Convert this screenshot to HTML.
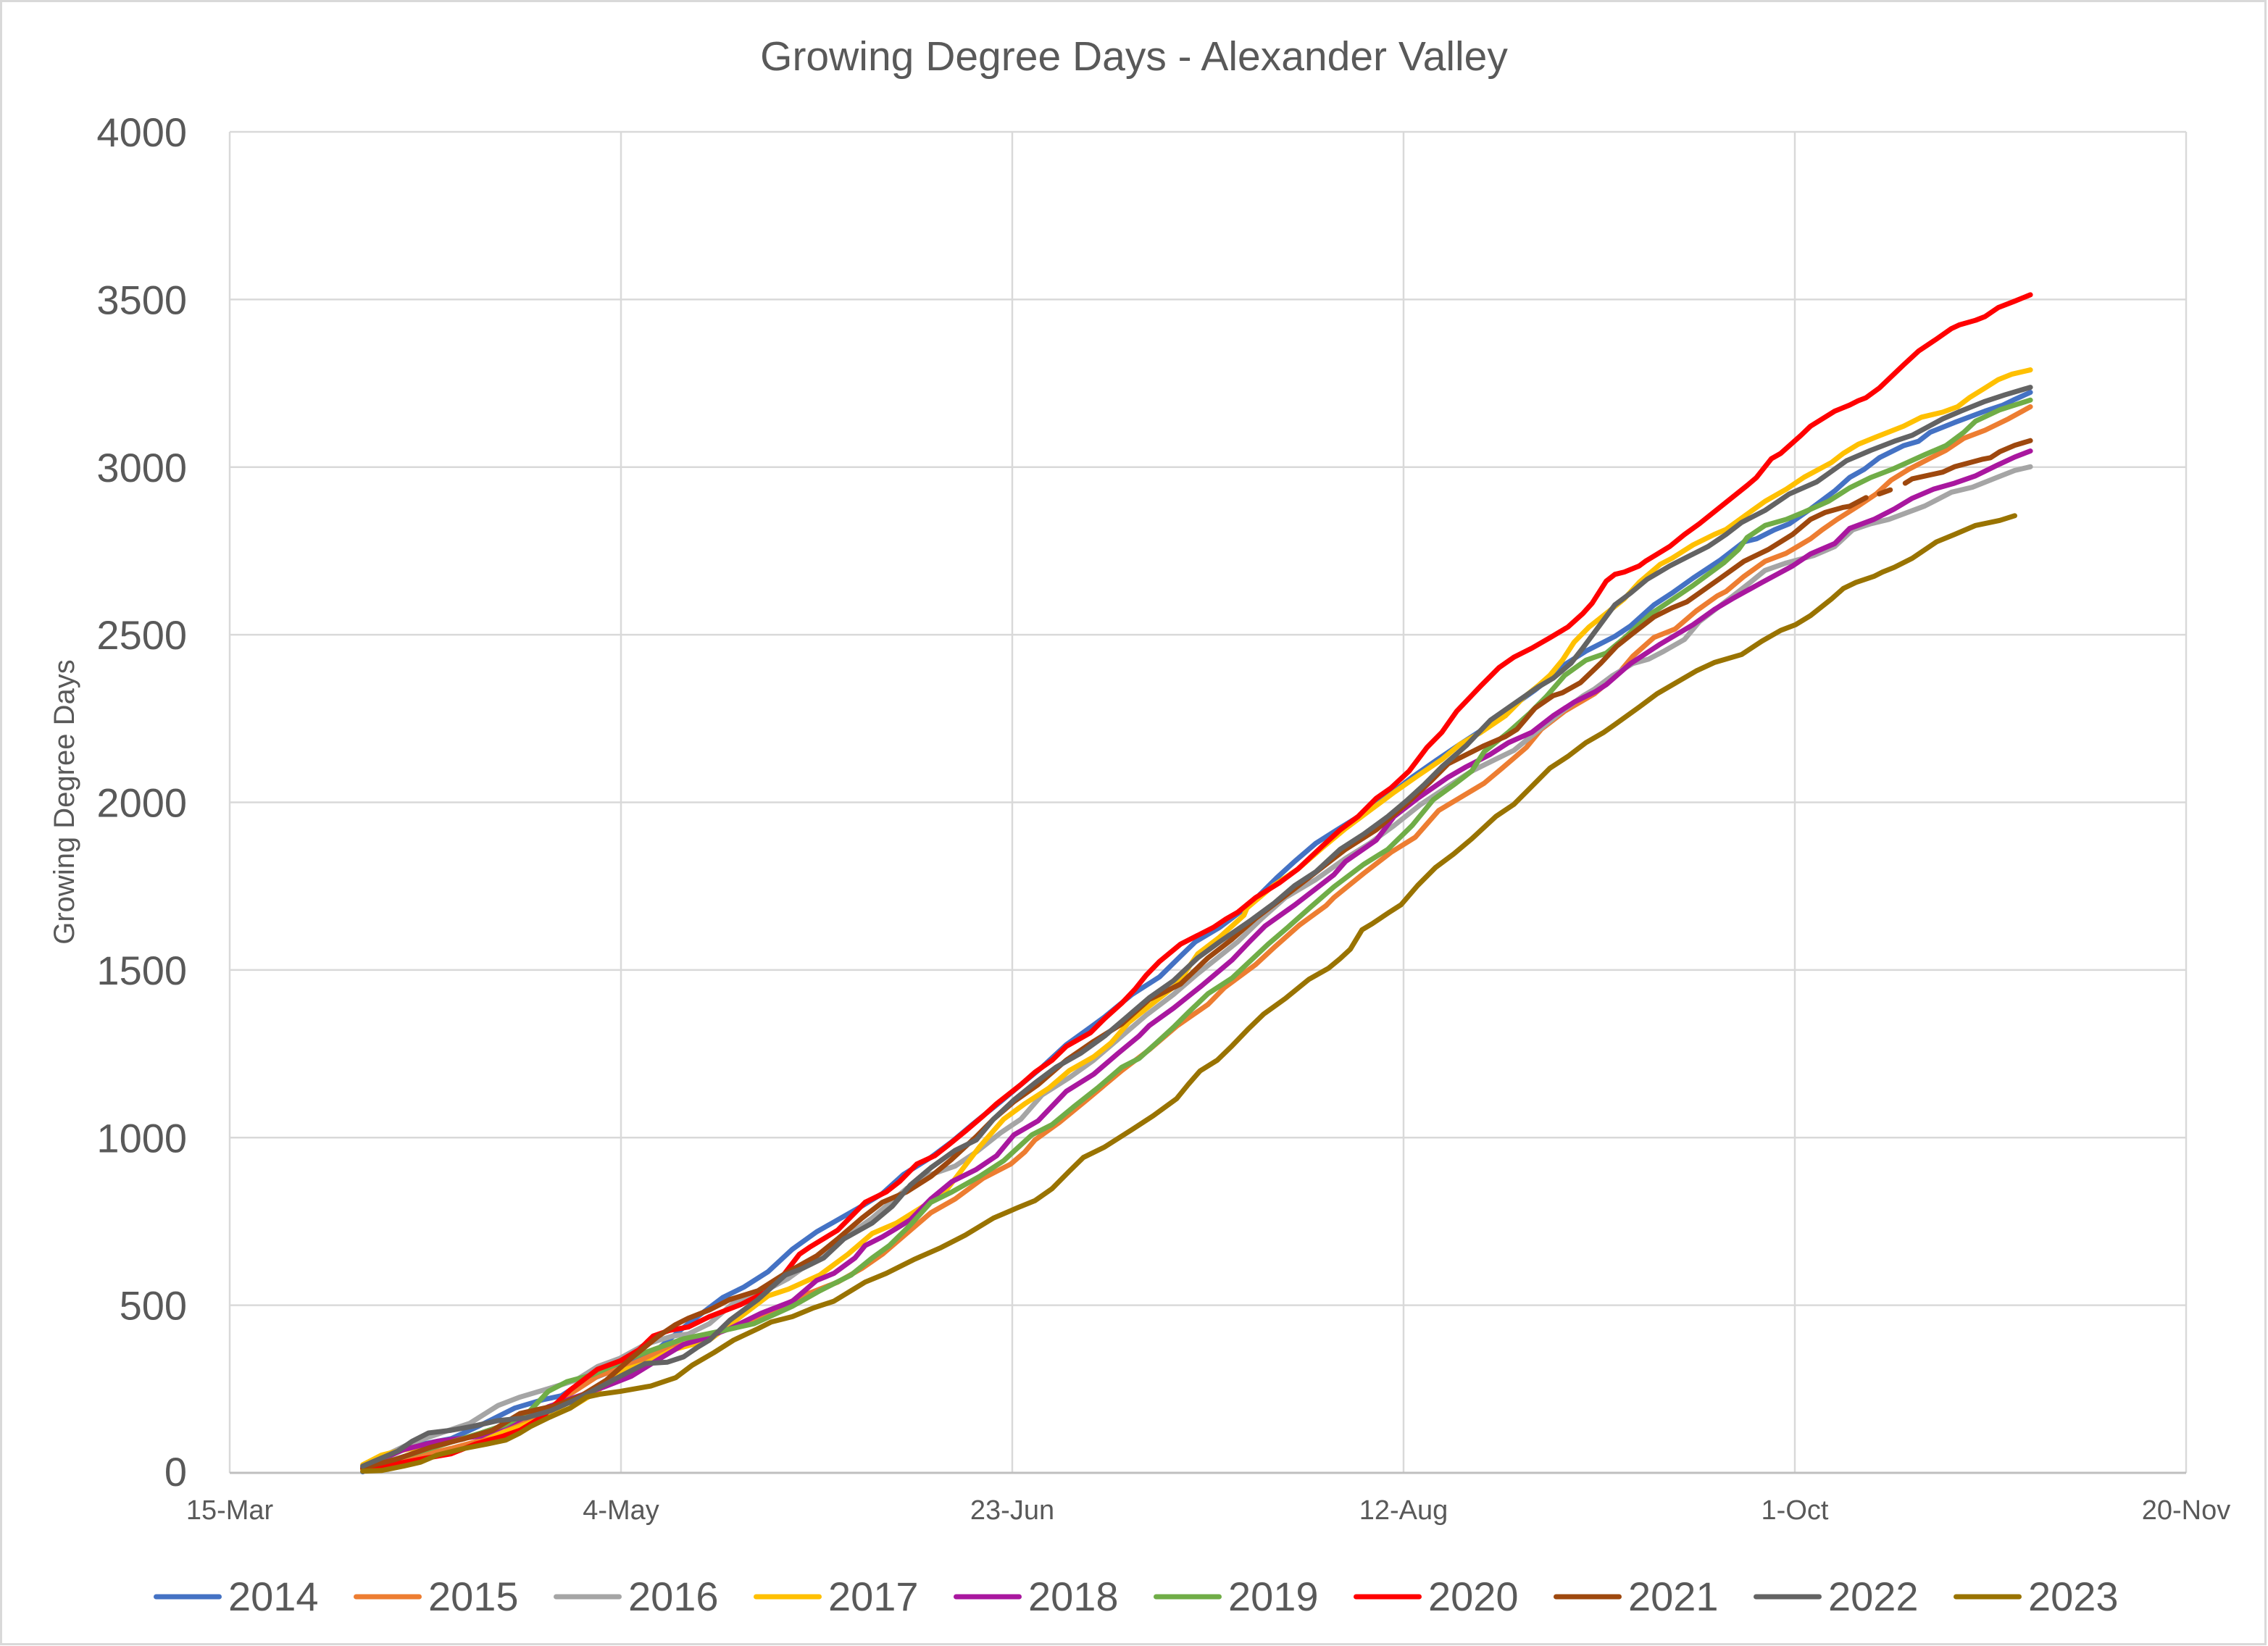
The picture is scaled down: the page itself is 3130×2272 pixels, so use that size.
<!DOCTYPE html>
<html>
<head>
<meta charset="utf-8">
<style>
html,body{margin:0;padding:0;background:#fff;}
svg{display:block;}
text{font-family:"Liberation Sans",Arial,sans-serif;fill:#595959;}
</style>
</head>
<body>
<svg width="3130" height="2272" viewBox="0 0 3130 2272" xmlns="http://www.w3.org/2000/svg">
<rect x="0" y="0" width="3130" height="2272" fill="#fff"/>
<rect x="1.5" y="1.5" width="3125" height="2268" fill="none" stroke="#d9d9d9" stroke-width="3"/>

<!-- title -->
<text x="1565" y="97" font-size="57" text-anchor="middle">Growing Degree Days - Alexander Valley</text>

<!-- gridlines -->
<g stroke="#d9d9d9" stroke-width="2.5" fill="none">
<line x1="317" y1="182" x2="3017" y2="182"/>
<line x1="317" y1="413.4" x2="3017" y2="413.4"/>
<line x1="317" y1="644.75" x2="3017" y2="644.75"/>
<line x1="317" y1="876.1" x2="3017" y2="876.1"/>
<line x1="317" y1="1107.5" x2="3017" y2="1107.5"/>
<line x1="317" y1="1338.9" x2="3017" y2="1338.9"/>
<line x1="317" y1="1570.25" x2="3017" y2="1570.25"/>
<line x1="317" y1="1801.6" x2="3017" y2="1801.6"/>
<line x1="317" y1="182" x2="317" y2="2033"/>
<line x1="857" y1="182" x2="857" y2="2033"/>
<line x1="1397" y1="182" x2="1397" y2="2033"/>
<line x1="1937" y1="182" x2="1937" y2="2033"/>
<line x1="2477" y1="182" x2="2477" y2="2033"/>
<line x1="3017" y1="182" x2="3017" y2="2033"/>
</g>
<line x1="317" y1="2033" x2="3017" y2="2033" stroke="#bfbfbf" stroke-width="3"/>

<!-- y tick labels -->
<g font-size="56" text-anchor="end">
<text x="258" y="202">4000</text>
<text x="258" y="433.4">3500</text>
<text x="258" y="664.75">3000</text>
<text x="258" y="896.1">2500</text>
<text x="258" y="1127.5">2000</text>
<text x="258" y="1358.9">1500</text>
<text x="258" y="1590.25">1000</text>
<text x="258" y="1821.6">500</text>
<text x="258" y="2051">0</text>
</g>

<!-- x tick labels -->
<g font-size="38" text-anchor="middle">
<text x="317" y="2097">15-Mar</text>
<text x="857" y="2097">4-May</text>
<text x="1397" y="2097">23-Jun</text>
<text x="1937" y="2097">12-Aug</text>
<text x="2477" y="2097">1-Oct</text>
<text x="3017" y="2097">20-Nov</text>
</g>

<!-- y axis label -->
<text transform="translate(102,1107) rotate(-90)" font-size="40" text-anchor="middle">Growing Degree Days</text>

<!-- series -->
<g transform="translate(317 2033) scale(10.8 -0.46275)" fill="none" stroke-width="7" stroke-linejoin="round" stroke-linecap="round">
<polyline vector-effect="non-scaling-stroke" stroke="#4472C4" points="17,3 21.2,61 24.7,86 28.3,102 31.8,139 36.4,193 40,218 42.4,230 44.9,268 48.1,297 51.3,334 54.8,371 58.6,445 63,523 65.7,554 68.8,600 71.9,667 75,719 78.1,760 80.8,796 83.4,833 86.1,890 89.6,941 92.3,988 94.9,1039 98.5,1107 101.1,1158 103.8,1210 106.9,1277 110,1329 111.8,1360 115.3,1427 118.8,1479 121.5,1541 123.4,1584 126.5,1627 130.3,1694 133.8,1775 136.1,1824 138.8,1878 141.5,1918 144.9,1967 148.4,2026 151.1,2075 154.1,2124 157.2,2173 159.9,2214 161.8,2249 164.1,2290 166.8,2335 168.7,2370 170.6,2411 173.3,2451 177,2495 179,2526 182,2589 184.3,2624 187,2669 190.5,2723 193.5,2777 195.1,2786 197.4,2813 199.3,2831 202,2875 205.1,2929 207,2969 208.9,2994 210.8,3028 213.9,3064 215.8,3077 217.3,3104 220.4,3133 224.3,3167 226.6,3185 228.1,3202 230.1,3223"/>
<polyline vector-effect="non-scaling-stroke" stroke="#ED7D31" points="17,12 22.9,44 28.3,73 33.6,106 38.9,164 43.5,235 47,288 50.6,317 54.8,359 59.1,392 63.3,429 67.9,466 73.2,528 77.7,569 80.8,610 83.4,652 87,724 89.6,776 92.7,817 96.3,879 99.8,921 101.6,957 102.9,993 106,1045 109.5,1112 114,1200 117.5,1262 121.1,1334 125,1397 127.1,1447 131.1,1516 133.6,1570 136.7,1634 140.1,1692 141.1,1716 144.9,1788 148.4,1851 151.5,1896 154.5,1976 156.8,2008 160.3,2057 162.6,2102 165.7,2164 167.6,2218 170.6,2272 174.4,2324 177.4,2383 179.3,2436 182,2492 184.7,2517 187.4,2571 190.1,2616 191.2,2629 193.5,2674 196.2,2719 198.9,2743 202,2786 203.5,2813 205.4,2844 208.1,2884 210.4,2920 212.3,2961 214.6,2994 217,3023 219.3,3050 221.6,3086 224.3,3110 227.3,3144 230.1,3180"/>
<polyline vector-effect="non-scaling-stroke" stroke="#A5A5A5" points="17,20 22.9,86 26.5,115 30.7,148 34.3,201 37.1,226 40.7,251 44.2,276 47,317 49.9,342 53.1,383 56.6,408 58.6,414 61.3,445 64.4,507 68.4,543 71.4,580 75,641 78.1,693 82.1,760 86.5,848 89.6,890 92.7,915 95.4,957 98.5,1014 101.1,1055 103.8,1127 107.3,1179 110.4,1231 113.5,1293 117.1,1365 120.6,1427 123.7,1489 128.8,1584 131.9,1654 134.9,1716 138.8,1770 142.6,1833 145.7,1878 148.8,1931 152.2,1994 155.7,2048 158.7,2093 161.8,2129 164.1,2155 167.2,2214 170.3,2272 172.9,2317 174.4,2338 176.7,2378 179.3,2414 181.3,2427 183.2,2450 185.9,2486 187.8,2539 191.6,2607 194.3,2656 196.2,2692 198.9,2714 202.4,2736 205.1,2763 207.4,2813 209.7,2831 212,2844 213.5,2857 216.6,2884 218.1,2902 220,2925 222.7,2940 225.8,2969 228.1,2990 230.1,3001"/>
<polyline vector-effect="non-scaling-stroke" stroke="#FFC000" points="17,24 19.4,53 21.5,65 26.5,86 30.7,106 35.3,123 39.2,156 43.5,193 47,243 49.5,301 53.1,326 56.6,367 61.3,396 65.3,466 68.8,528 71.4,548 75.4,590 79,652 82.1,714 85.2,745 88.7,796 91.4,838 93.6,905 95.8,972 98.9,1055 101.6,1101 104.7,1148 107.3,1200 110.4,1241 112.6,1282 114.9,1344 118,1401 121.1,1458 123.7,1548 126.5,1598 129.6,1663 130,1685 133.4,1752 136.5,1801 139.6,1864 142.6,1922 145.7,1976 148.8,2030 151.8,2079 154.9,2128 157.2,2173 159.9,2209 163,2258 165.3,2312 167.2,2348 168.7,2379 170.3,2424 171.8,2478 173.7,2523 176.3,2571 178.2,2607 180.1,2656 182.8,2710 184.3,2728 187,2768 189.7,2799 191.2,2814 193.5,2853 196.2,2898 198.9,2934 201.2,2970 204.7,3014 206.2,3041 208.1,3068 210.4,3090 213.9,3122 216.2,3149 218.9,3164 220.8,3180 222.3,3207 224.3,3236 226,3261 227.7,3277 230.1,3290"/>
<polyline vector-effect="non-scaling-stroke" stroke="#A9179F" points="17,15 22.2,69 26.5,94 32.1,110 36.4,152 40.7,197 44.2,226 47.7,255 51.3,288 54.5,334 58,383 59.9,396 63.9,430 67.9,476 71.9,512 75,574 77.2,595 79.9,641 81.2,678 83.4,704 85.2,729 87,755 89.6,817 92.3,869 95.4,905 98,946 100.2,1008 103.3,1050 106.9,1138 110.4,1189 113.5,1251 116.2,1303 117.5,1334 120.6,1386 124.2,1453 128.1,1530 130.3,1584 132.3,1631 136.1,1694 141.1,1784 142.6,1824 146.5,1887 148.8,1958 151.8,2012 155.7,2075 158,2106 161,2142 163.4,2178 166.4,2209 169.1,2258 171.8,2299 174.5,2330 175.9,2351 179,2414 182.8,2472 187,2530 189.7,2575 192,2607 195.8,2656 199.7,2705 202,2741 205.1,2772 207,2817 210.1,2844 212.7,2875 215,2907 217.7,2934 220.4,2952 223.1,2974 225.8,3005 228.1,3030 230.1,3048"/>
<polyline vector-effect="non-scaling-stroke" stroke="#70AD47" points="17,12 22.9,53 28.6,94 32.1,119 35.3,144 38.2,181 40.7,243 43.1,272 46.3,292 49.9,330 53.1,359 58,400 62.6,422 67,445 71.9,497 75.4,543 79.4,590 82.1,641 84.3,678 87,740 89.6,807 92.3,838 95.8,884 98.9,931 102.5,1008 105.1,1039 107.8,1091 110.9,1148 114,1210 116.2,1236 118.4,1282 120.6,1329 122.4,1371 125,1429 128.1,1476 132.7,1577 135.2,1627 138,1685 141.1,1748 144.9,1815 148,1860 151.1,1931 153.8,2008 156.4,2052 158.7,2093 160.3,2151 163.4,2209 166,2263 168.3,2317 170.6,2379 173.3,2424 175.9,2445 178.2,2490 181.6,2562 183.9,2598 187,2647 190.9,2714 192.8,2754 193.9,2790 196.2,2826 198.9,2844 201.2,2866 204.3,2898 207,2938 209.7,2969 212.7,2996 216.6,3037 219.3,3064 221.6,3104 223.1,3137 226.2,3171 230.1,3200"/>
<polyline vector-effect="non-scaling-stroke" stroke="#FF0000" points="17,12 21.5,28 25.1,44 28.3,57 31.4,86 35,110 37.1,127 40,168 43.5,247 47,309 49.9,334 52.3,367 54.1,408 56.2,425 58.6,435 61.3,466 65.3,502 68.4,538 70.6,585 72.8,652 74.1,673 77.7,724 79.9,776 81.2,807 83.9,838 85.6,869 87.8,921 90.1,946 91.8,977 94,1019 96.3,1065 98,1101 101.1,1158 102.9,1195 105.1,1231 106.9,1272 110,1313 111.8,1355 114,1401 115.7,1443 117.1,1484 118.8,1525 121.5,1577 125.7,1627 127.3,1652 128.8,1672 131.1,1716 134.2,1761 136.5,1801 139.6,1869 141.9,1918 144.2,1958 146.5,2012 148.4,2043 150.7,2093 153,2164 154.9,2209 156.8,2272 159.9,2348 162.2,2402 164.1,2433 166.4,2460 168.7,2491 171,2523 172.9,2563 174.1,2594 175.9,2660 177,2680 178.2,2687 180.1,2705 180.9,2719 184,2763 185.9,2799 187.8,2831 190.9,2889 194,2947 195.1,2969 197,3025 198.2,3041 200.8,3095 202,3122 205.1,3167 207,3185 208.1,3198 209.1,3207 210.8,3236 213.9,3305 215.8,3346 218.1,3382 220,3413 221,3424 223.1,3438 224.3,3449 226,3476 228.1,3495 230.1,3514"/>
<polyline vector-effect="non-scaling-stroke" stroke="#9E480E" points="17,15 21.2,40 25.8,77 30,102 33.6,127 37.1,177 41.7,201 44.9,230 48.1,276 51.3,342 54.8,408 56.9,441 58.6,461 61.3,486 63.9,517 67.5,543 71,595 75,647 77.7,698 80.8,760 83.4,807 86.5,838 89.6,884 92.3,936 95.4,1003 97.6,1055 100.2,1107 103.3,1158 106.9,1231 110.4,1287 114,1339 117.5,1412 121.5,1458 125,1536 128.1,1592 131.1,1654 136.1,1743 139.6,1806 142.6,1860 146.5,1918 150.3,1994 153.4,2061 155.7,2115 158,2142 160.3,2169 163,2196 164.5,2218 166.8,2281 169.1,2318 170.3,2327 172.6,2357 175.2,2415 177.2,2465 179.3,2504 182,2553 184.3,2580 186.2,2598 190.5,2669 193.5,2719 196.6,2754 199.7,2799 202,2844 203.9,2865 206.2,2880 207,2883 209.1,2909"/>
<polyline vector-effect="non-scaling-stroke" stroke="#9E480E" points="210.8,2920 212.2,2932"/>
<polyline vector-effect="non-scaling-stroke" stroke="#9E480E" points="214.1,2952 215,2965 218.9,2985 220.4,3001 223.9,3023 225,3028 226.2,3046 228.1,3065 230.1,3079"/>
<polyline vector-effect="non-scaling-stroke" stroke="#636363" points="17,20 19.4,44 21.5,65 23.3,94 25.4,119 28.3,127 31.1,139 34.3,156 37.8,164 41,185 44.2,218 46.3,243 49.9,288 53.1,326 55.9,330 58,346 59.8,375 61.3,396 63.9,455 67.5,517 71,590 73.2,610 75.9,641 78.5,698 82.1,745 84.7,796 87,859 89.6,910 92.7,962 95.4,993 97.6,1055 100.2,1112 102.9,1163 105.6,1210 108.7,1251 111.8,1303 114.9,1365 117.5,1417 120.6,1468 123.7,1536 126.5,1584 130.3,1645 133.4,1698 136.1,1752 138.8,1793 141.9,1860 144.9,1905 148,1958 150.3,2003 152.6,2052 154.9,2106 158,2169 161.1,2245 164.1,2294 167.2,2344 169.1,2370 171.4,2415 172.9,2460 174.9,2523 177,2589 179,2624 181.1,2665 184,2705 186.6,2736 188.9,2763 191.2,2799 193.2,2835 196.2,2871 199.3,2920 202.8,2956 206.6,3019 209.7,3050 212.7,3077 215,3095 218.9,3144 221.2,3167 224.3,3196 226.9,3216 230.1,3238"/>
<polyline vector-effect="non-scaling-stroke" stroke="#997300" points="17,5 19.4,7 22.2,20 24.4,32 26.5,53 30,73 32.9,86 35.3,98 37.1,119 38.5,139 40.7,164 43.5,193 45.6,226 47.4,235 49.9,243 53.8,259 57,284 59.1,321 61.9,359 64.4,396 67.5,430 69.2,450 71.9,466 74.6,492 77.2,512 81.2,569 83.9,595 87.4,636 90.9,672 94,709 97.6,760 100.7,791 102.9,812 105.1,848 107.3,900 109.1,941 111.8,972 115.3,1024 118,1065 121,1116 122.5,1159 124,1199 126.2,1231 128.1,1274 130.2,1325 132.1,1368 134.9,1415 137.9,1472 140.4,1505 141.9,1534 143.2,1562 144.7,1620 146,1638 148.1,1671 149.7,1695 151.8,1752 154.1,1806 156.4,1846 158.7,1891 161.8,1958 164.1,1994 166.4,2048 168.7,2102 171,2137 173.3,2178 175.6,2209 177,2232 180.1,2284 182.4,2324 187.4,2392 189.7,2417 193.2,2441 195.8,2481 198.2,2513 200.1,2530 202,2557 204.7,2607 206.2,2638 207.8,2656 210.1,2674 211.2,2687 212.7,2701 215,2728 218.1,2777 220.4,2799 223.1,2826 226.2,2841 228.1,2855"/>
</g>

<!-- legend -->
<g stroke-width="7" stroke-linecap="round">
<line x1="215.5" y1="2204" x2="302.5" y2="2204" stroke="#4472C4"/>
<line x1="491.5" y1="2204" x2="578.5" y2="2204" stroke="#ED7D31"/>
<line x1="767.5" y1="2204" x2="854.5" y2="2204" stroke="#A5A5A5"/>
<line x1="1043.5" y1="2204" x2="1130.5" y2="2204" stroke="#FFC000"/>
<line x1="1319.5" y1="2204" x2="1406.5" y2="2204" stroke="#A9179F"/>
<line x1="1595.5" y1="2204" x2="1682.5" y2="2204" stroke="#70AD47"/>
<line x1="1871.5" y1="2204" x2="1958.5" y2="2204" stroke="#FF0000"/>
<line x1="2147.5" y1="2204" x2="2234.5" y2="2204" stroke="#9E480E"/>
<line x1="2423.5" y1="2204" x2="2510.5" y2="2204" stroke="#636363"/>
<line x1="2699.5" y1="2204" x2="2786.5" y2="2204" stroke="#997300"/>
</g>
<g font-size="56">
<text x="315" y="2223">2014</text>
<text x="591" y="2223">2015</text>
<text x="867" y="2223">2016</text>
<text x="1143" y="2223">2017</text>
<text x="1419" y="2223">2018</text>
<text x="1695" y="2223">2019</text>
<text x="1971" y="2223">2020</text>
<text x="2247" y="2223">2021</text>
<text x="2523" y="2223">2022</text>
<text x="2799" y="2223">2023</text>
</g>
</svg>
</body>
</html>
